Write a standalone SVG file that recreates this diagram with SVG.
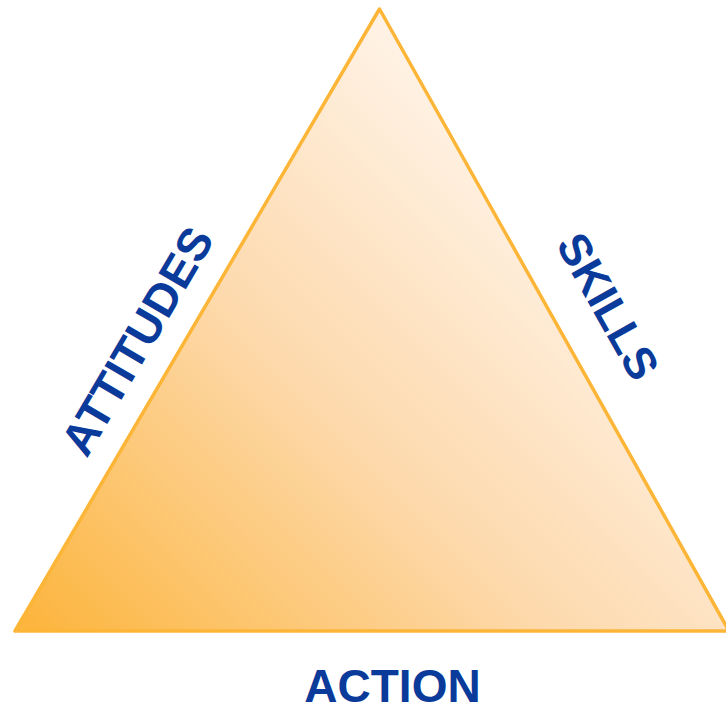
<svg xmlns="http://www.w3.org/2000/svg" width="726" height="707" viewBox="0 0 726 707">
<defs>
<linearGradient id="g" gradientUnits="userSpaceOnUse" x1="40" y1="640" x2="560" y2="120">
<stop offset="0" stop-color="#FCB53D"/>
<stop offset="0.5" stop-color="#FDD9AC"/>
<stop offset="1" stop-color="#FFF7F0"/>
</linearGradient>
<style>
.lbl{font-family:"Liberation Sans",Arial,sans-serif;font-weight:bold;fill:#0A3A9A;text-anchor:middle}
</style>
</defs>
<g id="triangle">
<polygon points="379.5,9 15,631 729,631" fill="url(#g)" stroke="#FCB536" stroke-width="3.5" stroke-linejoin="round"/>
</g>
<g id="attitudes">
<text class="lbl" font-size="46" transform="translate(151,349) rotate(-59.7)">ATTITUDES</text>
</g>
<g id="skills">
<text class="lbl" font-size="45" transform="translate(594.5,314) rotate(60.7)">SKILLS</text>
</g>
<g id="action">
<text class="lbl" font-size="46" x="392.5" y="702">ACTION</text>
</g>
</svg>
